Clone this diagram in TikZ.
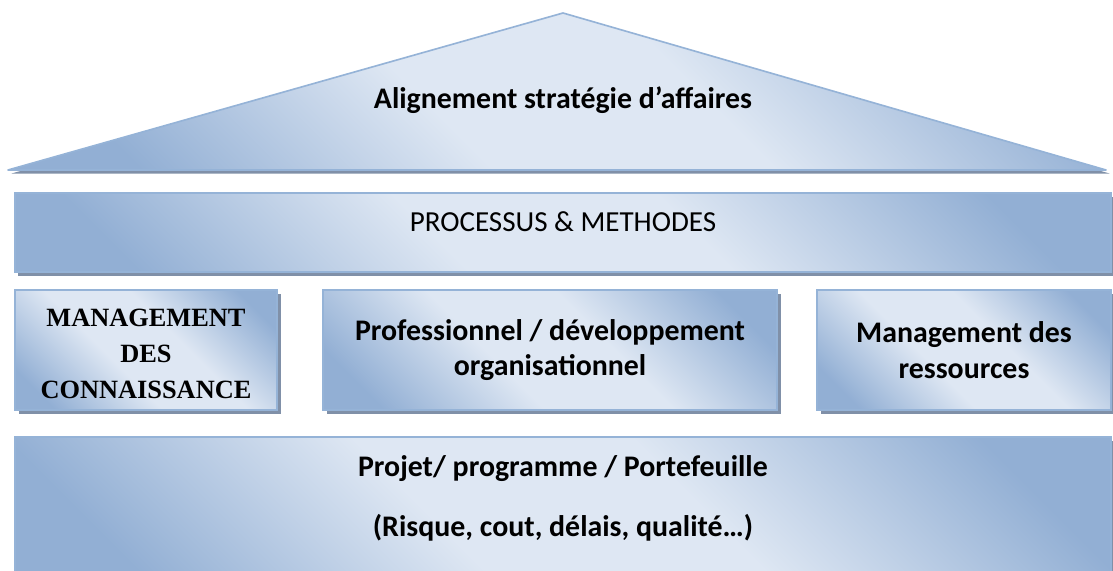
\documentclass[tikz,border=0pt]{standalone}
\usepackage{fontspec}
\setmainfont{Carlito}
\newfontfamily\romanfont{Liberation Serif}
\usetikzlibrary{positioning, shadows}

\definecolor{edgeblue}{RGB}{149,179,215}
\definecolor{paleblue}{RGB}{222,231,243}
\definecolor{deepblue}{RGB}{146,175,212}
\definecolor{shadowgray}{RGB}{128,144,168}
\pgfdeclareverticalshading{pillarshade}{100bp}{color(0bp)=(deepblue); color(22bp)=(deepblue);
    color(42bp)=(paleblue); color(58bp)=(paleblue); color(78bp)=(deepblue); color(100bp)=(deepblue)}

\begin{document}
\begin{tikzpicture}[x=0.03cm, y=-0.03cm,
    pillar/.style={draw=edgeblue, line width=1.4pt, shading=pillarshade,
        shading angle=-45,
        drop shadow={shadow xshift=3pt, shadow yshift=-3pt, fill=shadowgray, opacity=1},
        align=center, inner sep=0pt},
    label/.style={font=\fontsize{25.5}{30}\selectfont\bfseries}]
    \useasboundingbox (0,0) rectangle (1113,571);

    % Roof
    \coordinate (apex) at (563,13);
    \coordinate (eaveL) at (8,170);
    \coordinate (eaveR) at (1106,170);
    \path[pillar, line join=round] (eaveL) -- (apex) -- (eaveR) -- cycle;
    \node[label, anchor=base] (roof) at (563,109) {Alignement stratégie d’affaires};

    % Beam
    \node[pillar, minimum width=32.88cm, minimum height=2.37cm, text depth=18pt,
          font=\fontsize{24.8}{30}\selectfont] (process) at (563,232.5) {PROCESSUS \& METHODES};

    % Pillars
    \node[pillar, minimum width=7.86cm, minimum height=3.6cm, text height=83pt,
          font=\fontsize{22.5}{30.7}\selectfont\romanfont\bfseries] (knowledge) at (146,350)
          {MANAGEMENT\\DES\\CONNAISSANCE};
    \node[pillar, minimum width=13.62cm, minimum height=3.6cm,
          font=\fontsize{25.5}{30.5}\selectfont\bfseries] (develop) at (550,350)
          {Professionnel / développement\\organisationnel};
    \node[pillar, minimum width=8.82cm, minimum height=3.6cm,
          font=\fontsize{25.5}{30.5}\selectfont\bfseries] (resources) at (964,350)
          {Management des\\ressources};

    % Foundation
    \node[pillar, minimum width=32.88cm, minimum height=4.29cm,
          font=\fontsize{25.5}{51}\selectfont\bfseries, text depth=21pt] (project) at (563,508.5)
          {Projet/ programme / Portefeuille\\(Risque, cout, délais, qualité…)};
\end{tikzpicture}
\end{document}
